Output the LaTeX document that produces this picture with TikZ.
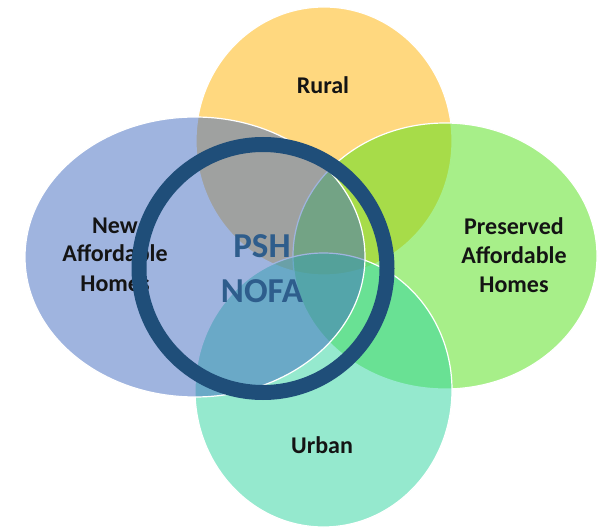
\documentclass[tikz,border=0pt]{standalone}
\usepackage{fontspec}
\setmainfont{Carlito}
\begin{document}
\begin{tikzpicture}[x=1pt,y=-1pt]
\definecolor{cyel}{RGB}{255,179,0}
\definecolor{cblue}{RGB}{65,107,193}
\definecolor{cgreen}{RGB}{81,225,21}
\definecolor{cteal}{RGB}{45,213,159}
\definecolor{ringblue}{RGB}{31,78,121}
\definecolor{pshblue}{RGB}{46,93,140}
\definecolor{lblblack}{RGB}{20,20,20}
\tikzset{
  petal/.style={fill opacity=0.5, draw=white, line width=1.2pt},
  lbl/.style={font=\bfseries\fontsize{24}{29}\selectfont, text=lblblack, align=center, inner sep=0pt, anchor=base},
  bigtxt/.style={font=\bfseries\fontsize{35}{46}\selectfont, text=pshblue, align=center, inner sep=0pt, anchor=base},
  ring/.style={draw=ringblue, line width=15pt}
}
\useasboundingbox (0,0) rectangle (605,529);
\fill[white] (0,0) rectangle (605,529);
% circles: yellow, green, teal, blue (bottom to top)
\filldraw[petal, fill=cyel]   (324,141) ellipse [x radius=128, y radius=134];
\filldraw[petal, fill=cgreen] (445,256) ellipse [x radius=152, y radius=133];
\filldraw[petal, fill=cteal]  (323.5,390) ellipse [x radius=128.5, y radius=137];
\filldraw[petal, fill=cblue]  (195,257) ellipse [x radius=170, y radius=140];
% labels (anchor base = last line)
\node[lbl] (rural) at (323,94) {Rural};
\node[lbl] (newah) at (115,291) {New\\Affordable\\Homes};
\node[lbl] (presah) at (514,293) {Preserved\\Affordable\\Homes};
\node[lbl] (urban) at (322,453) {Urban};
% ring
\draw[ring] (263,268.5) circle [radius=124];
\node[bigtxt] (psh) at (262,303) {PSH\\NOFA};
\end{tikzpicture}
\end{document}
